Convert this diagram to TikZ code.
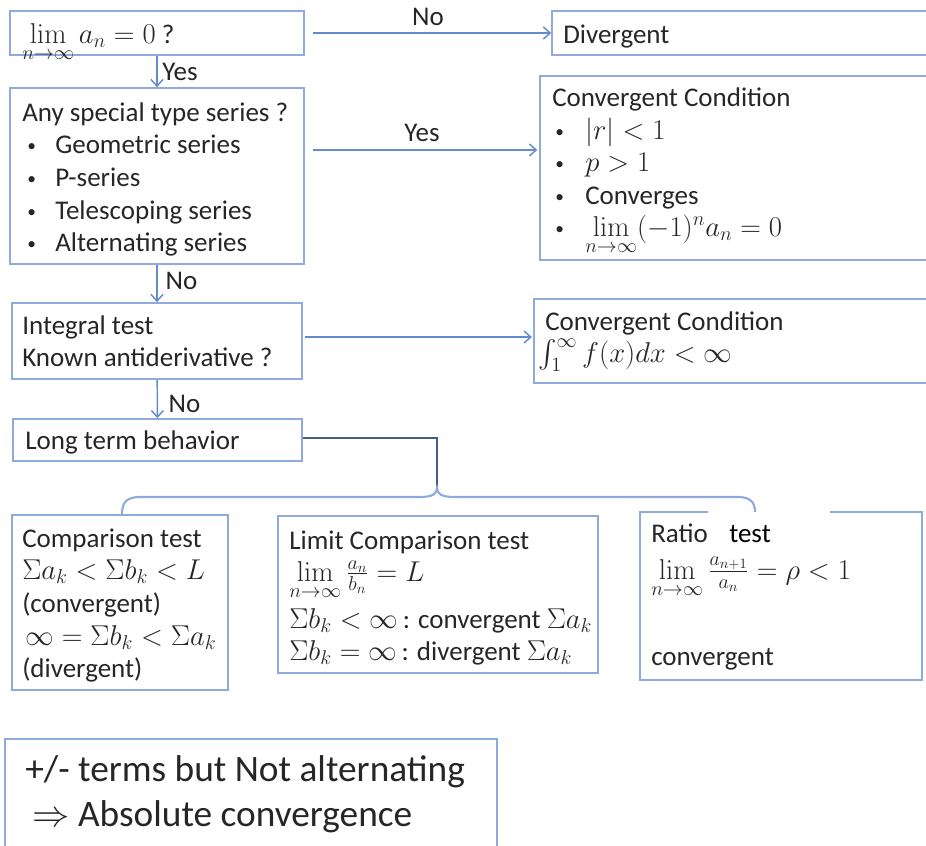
\RequirePackage{fix-cm}
\documentclass[tikz,border=0pt]{standalone}
\usepackage{amsmath}
\usepackage[no-math]{fontspec}
\setmainfont{Carlito}
\usetikzlibrary{arrows.meta,fit,calc}
\definecolor{boxc}{RGB}{143,170,220}
\definecolor{arrc}{RGB}{100,140,205}
\definecolor{darkc}{RGB}{68,94,140}
\definecolor{txtc}{RGB}{38,38,38}
\newcommand{\mybul}{\raisebox{1.5pt}{\fontsize{13}{13}\selectfont\textbullet}}
\newcommand{\mm}[1]{{\fontsize{21.5}{24}\selectfont$#1$}}
\begin{document}
\begin{tikzpicture}[x=0.75pt,y=-0.75pt,
 box/.style={draw=boxc, line width=1.2pt, inner sep=0pt, rectangle},
 txt/.style={anchor=base west, inner sep=0pt, text=txtc, font=\fontsize{20.25}{24}\selectfont},
 big/.style={anchor=base west, inner sep=0pt, text=txtc, font=\fontsize{28}{33}\selectfont},
 arr/.style={draw=arrc, line width=1.1pt, -{Straight Barb[length=5pt,width=9pt]}},
 lab/.style={text=txtc, font=\fontsize{20.25}{24}\selectfont, inner sep=0pt},
 brace/.style={draw=boxc, line width=1.6pt},
 conn/.style={draw=darkc, line width=2pt}]
\useasboundingbox (0,0) rectangle (926,846);
\clip (0,0) rectangle (926,846);
% boxes
\node[box, fit={(10,11)(304,55)}] (q1) {};
\node[box, fit={(552,11)(940,55)}] (div) {};
\node[box, fit={(10,88)(304,264)}] (spec) {};
\node[box, fit={(540,76)(940,260)}] (cc1) {};
\node[box, fit={(12,303)(302,379)}] (integ) {};
\node[box, fit={(534,299)(940,383)}] (cc2) {};
\node[box, fit={(13,419)(302,461)}] (ltb) {};
\node[box, fit={(12,515)(228,690)}] (comp) {};
\node[box, fit={(278,516)(598,673)}] (lcomp) {};
\node[box, fit={(640,512)(922,680)}] (ratio) {};
\node[box, fit={(5,739)(497,860)}] (abs) {};
% texts
\node[txt] (t1) at (22,43) {\mm{\lim\limits_{n\to\infty} a_n = 0} ?};
\node[txt] (t2) at (563,43) {Divergent};
\node[txt] (s0) at (22,121) {Any special type series ?};
\node[txt] (sb1) at (27,153) {\mybul};
\node[txt] (sb2) at (27,186) {\mybul};
\node[txt] (sb3) at (27,219) {\mybul};
\node[txt] (sb4) at (27,251) {\mybul};
\node[txt] (s1) at (55,153) {Geometric series};
\node[txt] (s2) at (55,186) {P-series};
\node[txt] (s3) at (55,219) {Telescoping series};
\node[txt] (s4) at (55,251) {Alternating series};
\node[txt] (c0) at (552,106) {Convergent Condition};
\node[txt] (cb1) at (555,139) {\mybul};
\node[txt] (cb2) at (555,171) {\mybul};
\node[txt] (cb3) at (555,204) {\mybul};
\node[txt] (cb4) at (555,236) {\mybul};
\node[txt] (c1) at (585,139) {\mm{|r|<1}};
\node[txt] (c2) at (585,171) {\mm{p>1}};
\node[txt] (c3) at (585,204) {Converges};
\node[txt] (c4) at (585,236) {\mm{\lim\limits_{n\to\infty}(-1)^n a_n=0}};
\node[txt] (i1) at (22,334) {Integral test};
\node[txt] (i2) at (22,366) {Known antiderivative ?};
\node[txt] (d1) at (545,330) {Convergent Condition};
\node[txt] (d2) at (538,362) {\mm{\int_1^\infty f(x)dx<\infty}};
\node[txt] (l1) at (25,449) {Long term behavior};
\node[txt] (m1) at (22,547) {Comparison test};
\node[txt] (m2) at (22,579) {\mm{\Sigma a_k<\Sigma b_k<L}};
\node[txt] (m3) at (22,612) {(convergent)};
\node[txt] (m4) at (25,645) {\mm{\infty=\Sigma b_k<\Sigma a_k}};
\node[txt] (m5) at (22,677) {(divergent)};
\node[txt] (n1) at (289,549) {Limit Comparison test};
\node[txt] (n2) at (289,581) {\mm{\lim\limits_{n\to\infty}\frac{a_n}{b_n}=L}};
\node[txt] (n3) at (289,628) {\mm{\Sigma b_k<\infty}\,: convergent \mm{\Sigma a_k}};
\node[txt] (n4) at (289,660) {\mm{\Sigma b_k=\infty}\,: divergent \mm{\Sigma a_k}};
\node[txt] (r1) at (651,542) {Ratio};
\fill[white] (708,509) rectangle (830,547);
\node[txt, text=black] (r2) at (729,542) {test};
\node[txt] (r3) at (651,579) {\mm{\lim\limits_{n\to\infty}\frac{a_{n+1}}{a_n}=\rho<1}};
\node[txt] (r4) at (651,665) {convergent};
\node[big] (a1) at (25,781) {+/- terms but Not alternating};
\node[big] (a2) at (32,826) {$\Rightarrow$ Absolute convergence};
% connectors
\draw[arr, shorten <=6pt] (q1) -- (div) node[lab, midway, yshift=12pt] {No};
\draw[arr] (q1) -- (spec) node[lab, midway, anchor=west, xshift=3.5pt] {Yes};
\draw[arr, shorten <=6pt, shorten >=1.5pt] ([yshift=19.5pt]spec.east) -- ([yshift=13.5pt]cc1.west) node[lab, midway, yshift=12.75pt] {Yes};
\draw[arr] (spec) -- (integ) node[lab, midway, anchor=west, xshift=6pt, yshift=2.25pt] {No};
\draw[arr, shorten <=1.5pt, shorten >=1pt] ([yshift=3pt]integ.east) -- ([yshift=3pt]cc2.west);
\draw[arr] (integ) -- (ltb) node[lab, midway, anchor=west, xshift=8pt, yshift=-4pt] {No};
\coordinate (cusp) at (437,488);
\draw[conn] ([yshift=1.5pt]ltb.east) -| (cusp);
\draw[brace] (122,514) .. controls (122,502) and (127,497) .. (140,497) -- (420,497) .. controls (432,497) and (437,494) .. (cusp) .. controls (437,494) and (442,497) .. (454,497) -- (738,497) .. controls (750,497) and (755,502) .. (755,512);
\end{tikzpicture}
\end{document}
